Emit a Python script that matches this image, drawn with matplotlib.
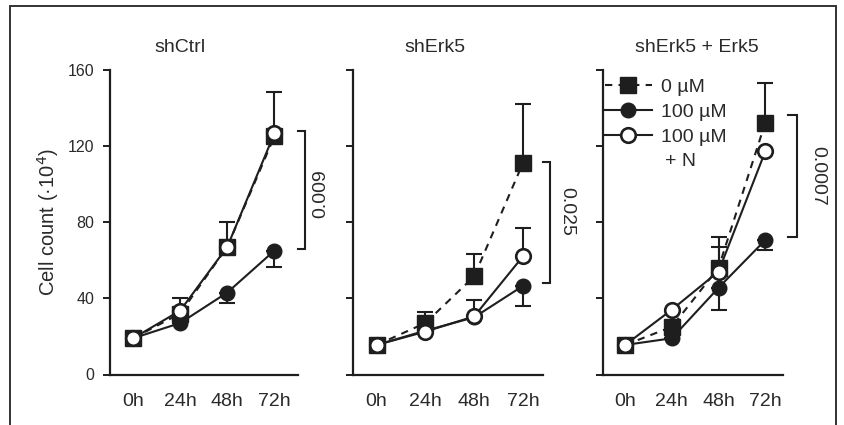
import numpy as np
import matplotlib
matplotlib.use('Agg')
import matplotlib.pyplot as plt
import matplotlib.transforms as mtransforms
from matplotlib.patches import Rectangle

plt.rcParams['font.family'] = ['Liberation Sans', 'DejaVu Sans']

# data
times = ['0h', '24h', '48h', '72h']
panels = ['shCtrl', 'shErk5', 'shErk5 + Erk5']
labels = ['0 µM', '100 µM', '100 µM']

ctrl_sq = [19, 32, 67, 125]
ctrl_sq_up = [0, 8, 13, 23]
ctrl_fc = [19, 27, 43, 65]
ctrl_fc_dn = [0, 0, 5.5, 8.5]
ctrl_oc = [19, 33.5, 67, 126.5]
ctrl_oc_up = [0, 0, 0, 0]

erk_sq = [15.5, 27, 51.5, 111]
erk_sq_up = [0, 6, 11.5, 31]
erk_fc = [15.5, 23, 30, 46.5]
erk_fc_dn = [0, 0, 0, 10.5]
erk_oc = [15.5, 22.5, 30.5, 62]
erk_oc_up = [0, 0, 8.5, 15]

res_sq = [15.5, 25, 56, 132]
res_sq_up = [0, 0, 16, 21]
res_fc = [15.5, 19, 45.5, 70.5]
res_fc_dn = [0, 0, 11.5, 5]
res_oc = [15.5, 34, 54, 117]
res_oc_up = [0, 0, 13, 0]

# p-value brackets: (top, bottom, text)
brackets = [(128, 65.7, '0.009'), (111.3, 48.2, '0.025'), (136, 72, '0.0007')]

series = [
    (ctrl_sq, ctrl_sq_up, ctrl_fc, ctrl_fc_dn, ctrl_oc, ctrl_oc_up),
    (erk_sq, erk_sq_up, erk_fc, erk_fc_dn, erk_oc, erk_oc_up),
    (res_sq, res_sq_up, res_fc, res_fc_dn, res_oc, res_oc_up),
]

W, H = 844, 425
fig = plt.figure(figsize=(W / 100, H / 100), dpi=100)
fig.patches.append(Rectangle((10 / W, -0.05), 826 / W, 1.05 - 6 / H, transform=fig.transFigure,
                             fill=False, lw=1.4, ec='#333333'))

col = '#1e1e1e'
txt = '#2a2a2a'
# axes left/right in px and xlims
boxes = [(109.5, 298), (352.7, 543), (602.7, 783)]
xlims = [(-0.5, 3.5), (-0.49, 3.41), (-0.48, 3.38)]
title_x = [1.0, 1.2, 1.54]
br_x = [(3.49, 3.64), (3.41, 3.56), (3.49, 3.68)]
pv_x = [3.99, 3.89, 4.12]
pv_rot = [90, -90, -90]

x = np.arange(len(times))
for i, ax_px in enumerate(boxes):
    l, r = ax_px
    ax = fig.add_axes([l / W, (H - 374.5) / H, (r - l) / W, 305 / H])
    sq, squp, fc, fcdn, oc, ocup = series[i]
    ekw = dict(fmt='none', ecolor=col, elinewidth=1.5, capsize=6, capthick=1.5)
    ax.errorbar(x, sq, yerr=[np.zeros(4), squp], zorder=2, **ekw)
    ax.errorbar(x, fc, yerr=[fcdn, np.zeros(4)], zorder=2, **ekw)
    ax.errorbar(x, oc, yerr=[np.zeros(4), ocup], zorder=2, **ekw)
    ax.plot(x, sq, ls=(0, (3.5, 3)), color=col, lw=1.5, marker='s', ms=11,
            mfc=col, mec=col, label=labels[0], zorder=3)
    ax.plot(x, fc, ls='-', color=col, lw=1.5, marker='o', ms=10.5,
            mfc=col, mec=col, label=labels[1], zorder=4)
    ax.plot(x, oc, ls='-', color=col, lw=1.5, marker='o', ms=10.5,
            mfc='white', mec=col, mew=1.9, label=labels[2], zorder=5)

    ax.set_xlim(*xlims[i])
    ax.set_ylim(0, 160)
    ax.set_yticks([0, 40, 80, 120, 160])
    ax.set_xticks(x)
    ax.set_xticklabels(times, fontsize=14, color=txt)
    ax.tick_params(axis='x', length=0, pad=13)
    ax.tick_params(axis='y', length=5, width=1.4, color=col, labelsize=11.5,
                   labelcolor=txt, pad=6)
    if i > 0:
        ax.set_yticklabels([])
    else:
        ax.set_ylabel('Cell count (·10$^4$)', fontsize=14.5, color=txt, labelpad=5)
    for s in ['top', 'right']:
        ax.spines[s].set_visible(False)
    for s in ['left', 'bottom']:
        ax.spines[s].set_linewidth(1.6)
        ax.spines[s].set_color(col)

    ax.text(title_x[i], 171.8, panels[i], ha='center', va='center', fontsize=14,
            color=txt, clip_on=False)

    top, bot, ptxt = brackets[i]
    x0, x1 = br_x[i]
    ax.plot([x0, x1, x1, x0], [top, top, bot, bot], color=col, lw=1.5,
            clip_on=False, solid_joinstyle='miter')
    ax.text(pv_x[i], (top + bot) / 2 + (6 if i == 1 else 0) + (-2 if i == 0 else 0),
            ptxt, rotation=pv_rot[i], ha='center', va='center',
            fontsize=14, color=txt, clip_on=False)

    if i == 2:
        ax.legend(loc='upper left', bbox_to_anchor=(0.0, 0.977), frameon=False,
                  fontsize=14, handlelength=2.45, handletextpad=0.45,
                  labelspacing=0.38, borderaxespad=0.0, borderpad=0.1,
                  labelcolor=txt)
        tr = mtransforms.blended_transform_factory(ax.transAxes, ax.transData)
        ax.text(0.345, 111.5, '+ N', fontsize=14, color=txt, ha='left',
                va='center', transform=tr)

fig.savefig('out.png', dpi=100)
